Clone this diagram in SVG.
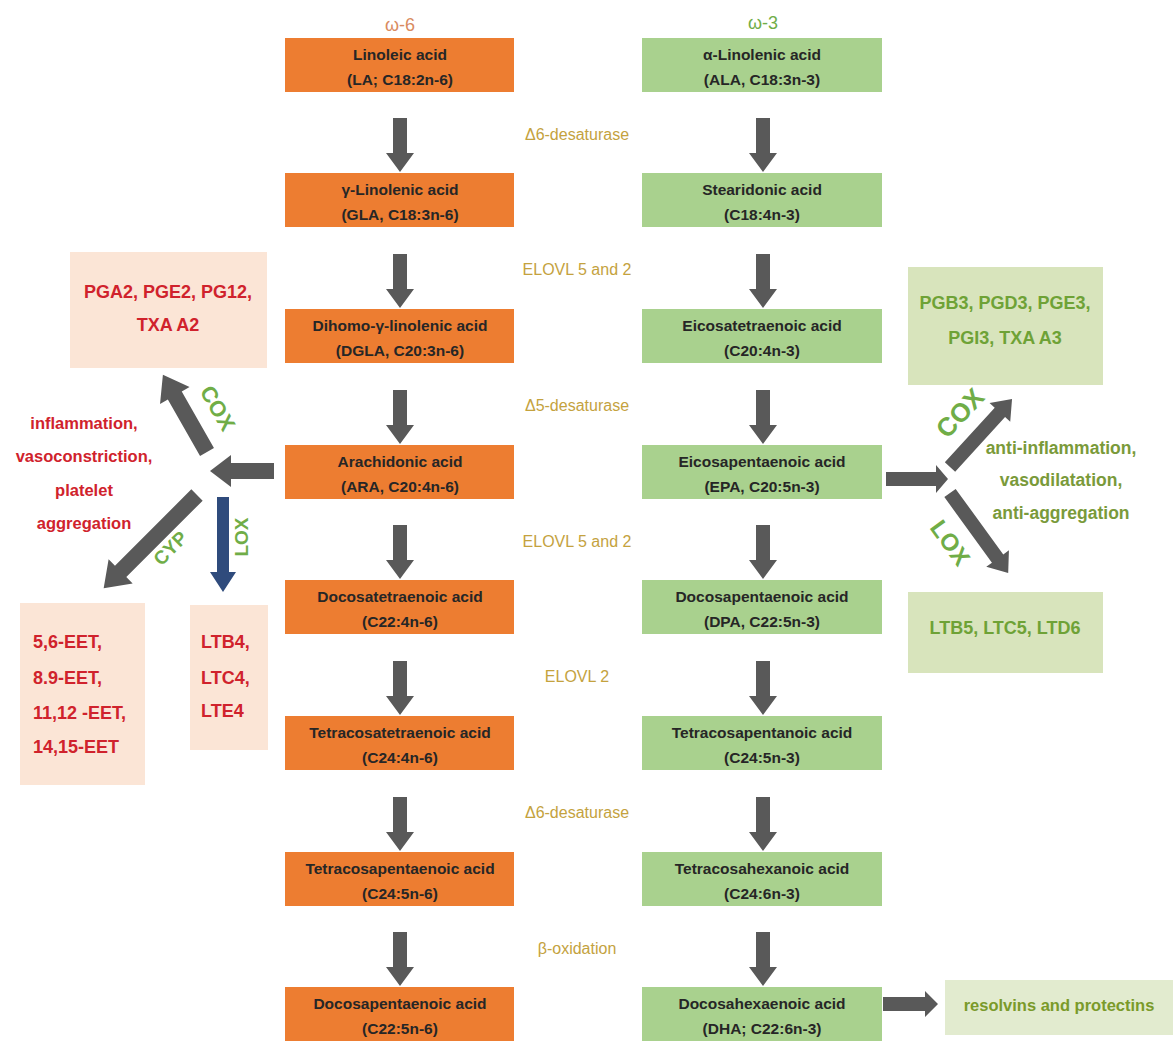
<svg xmlns="http://www.w3.org/2000/svg" xmlns:xlink="http://www.w3.org/1999/xlink" width="1173" height="1041" viewBox="0 0 1173 1041">
<defs>
<style>
text{font-family:"Liberation Sans","Arial",sans-serif;}
.ob{fill:#ed7d31;}
.gb{fill:#a9d18e;}
.bt{font-size:15.5px;font-weight:bold;fill:#262626;text-anchor:middle;}
.enz{font-size:16px;fill:#c4a23e;text-anchor:middle;}
.rbox{fill:#fbe5d6;}
.gbox{fill:#d8e4bc;}
.rt{font-size:18px;font-weight:bold;fill:#d0222c;}
.gt{font-size:18px;font-weight:bold;fill:#6ea236;}
.lab{font-weight:bold;fill:#70ad47;text-anchor:middle;}
.arr{fill:#595959;}
.blue{fill:#2f4b7c;}
</style>
<path id="vArrow" d="M-7,0 H7 V35 H14 L0,54 L-14,35 H-7 Z"/>
</defs>
<rect width="1173" height="1041" fill="#ffffff"/>

<text x="400" y="31" style="font-size:18px;fill:#d98b5f;text-anchor:middle;">ω-6</text>
<text x="763" y="29" style="font-size:18px;fill:#70ad47;text-anchor:middle;">ω-3</text>

<g id="connectors">
<use href="#vArrow" x="400" y="118" class="arr"/>
<use href="#vArrow" x="400" y="254" class="arr"/>
<use href="#vArrow" x="400" y="390" class="arr"/>
<use href="#vArrow" x="400" y="525" class="arr"/>
<use href="#vArrow" x="400" y="661" class="arr"/>
<use href="#vArrow" x="400" y="797" class="arr"/>
<use href="#vArrow" x="400" y="932" class="arr"/>
<use href="#vArrow" x="763" y="118" class="arr"/>
<use href="#vArrow" x="763" y="254" class="arr"/>
<use href="#vArrow" x="763" y="390" class="arr"/>
<use href="#vArrow" x="763" y="525" class="arr"/>
<use href="#vArrow" x="763" y="661" class="arr"/>
<use href="#vArrow" x="763" y="797" class="arr"/>
<use href="#vArrow" x="763" y="932" class="arr"/>
<!-- left side -->
<polygon class="arr" transform="translate(274,471) rotate(180)" points="0,-8 43,-8 43,-16 64,0 43,16 43,8 0,8"/>
<polygon class="arr" transform="translate(207,452) rotate(-119.7)" points="0,-8 65,-8 65,-17 89,0 65,17 65,8 0,8"/>
<polygon class="arr" transform="translate(197,495) rotate(135)" points="0,-8 108,-8 108,-17 132,0 108,17 108,8 0,8"/>
<polygon class="blue" transform="translate(223,497) rotate(90)" points="0,-6 75,-6 75,-13 95,0 75,13 75,6 0,6"/>
<!-- right side -->
<polygon class="arr" transform="translate(886,479) rotate(0)" points="0,-7 50,-7 50,-14 62,0 50,14 50,7 0,7"/>
<polygon class="arr" transform="translate(950,467) rotate(-47.6)" points="0,-7 74,-7 74,-14 92,0 74,14 74,7 0,7"/>
<polygon class="arr" transform="translate(950,493) rotate(54)" points="0,-7 81,-7 81,-14 99,0 81,14 81,7 0,7"/>
<polygon class="arr" transform="translate(883,1004) rotate(0)" points="0,-7 42,-7 42,-13 55,0 42,13 42,7 0,7"/>
</g>

<g id="enzyme-labels">
<text class="enz" x="577" y="140">Δ6-desaturase</text>
<text class="enz" x="577" y="275">ELOVL 5 and 2</text>
<text class="enz" x="577" y="411">Δ5-desaturase</text>
<text class="enz" x="577" y="547">ELOVL 5 and 2</text>
<text class="enz" x="577" y="682">ELOVL 2</text>
<text class="enz" x="577" y="818">Δ6-desaturase</text>
<text class="enz" x="577" y="954">β-oxidation</text>
</g>

<g id="o1"><rect class="ob" x="285" y="38" width="229" height="54"/><text class="bt" x="400" y="60">Linoleic acid</text><text class="bt" x="400" y="85">(LA; C18:2n-6)</text></g>
<g id="o2"><rect class="ob" x="285" y="173" width="229" height="54"/><text class="bt" x="400" y="195">γ-Linolenic acid</text><text class="bt" x="400" y="220">(GLA, C18:3n-6)</text></g>
<g id="o3"><rect class="ob" x="285" y="309" width="229" height="54"/><text class="bt" x="400" y="331">Dihomo-γ-linolenic acid</text><text class="bt" x="400" y="356">(DGLA, C20:3n-6)</text></g>
<g id="o4"><rect class="ob" x="285" y="445" width="229" height="54"/><text class="bt" x="400" y="467">Arachidonic acid</text><text class="bt" x="400" y="492">(ARA, C20:4n-6)</text></g>
<g id="o5"><rect class="ob" x="285" y="580" width="229" height="54"/><text class="bt" x="400" y="602">Docosatetraenoic acid</text><text class="bt" x="400" y="627">(C22:4n-6)</text></g>
<g id="o6"><rect class="ob" x="285" y="716" width="229" height="54"/><text class="bt" x="400" y="738">Tetracosatetraenoic acid</text><text class="bt" x="400" y="763">(C24:4n-6)</text></g>
<g id="o7"><rect class="ob" x="285" y="852" width="229" height="54"/><text class="bt" x="400" y="874">Tetracosapentaenoic acid</text><text class="bt" x="400" y="899">(C24:5n-6)</text></g>
<g id="o8"><rect class="ob" x="285" y="987" width="229" height="54"/><text class="bt" x="400" y="1009">Docosapentaenoic acid</text><text class="bt" x="400" y="1034">(C22:5n-6)</text></g>

<g id="g1"><rect class="gb" x="642" y="38" width="240" height="54"/><text class="bt" x="762" y="60">α-Linolenic acid</text><text class="bt" x="762" y="85">(ALA, C18:3n-3)</text></g>
<g id="g2"><rect class="gb" x="642" y="173" width="240" height="54"/><text class="bt" x="762" y="195">Stearidonic acid</text><text class="bt" x="762" y="220">(C18:4n-3)</text></g>
<g id="g3"><rect class="gb" x="642" y="309" width="240" height="54"/><text class="bt" x="762" y="331">Eicosatetraenoic acid</text><text class="bt" x="762" y="356">(C20:4n-3)</text></g>
<g id="g4"><rect class="gb" x="642" y="445" width="240" height="54"/><text class="bt" x="762" y="467">Eicosapentaenoic acid</text><text class="bt" x="762" y="492">(EPA, C20:5n-3)</text></g>
<g id="g5"><rect class="gb" x="642" y="580" width="240" height="54"/><text class="bt" x="762" y="602">Docosapentaenoic acid</text><text class="bt" x="762" y="627">(DPA, C22:5n-3)</text></g>
<g id="g6"><rect class="gb" x="642" y="716" width="240" height="54"/><text class="bt" x="762" y="738">Tetracosapentanoic acid</text><text class="bt" x="762" y="763">(C24:5n-3)</text></g>
<g id="g7"><rect class="gb" x="642" y="852" width="240" height="54"/><text class="bt" x="762" y="874">Tetracosahexanoic acid</text><text class="bt" x="762" y="899">(C24:6n-3)</text></g>
<g id="g8"><rect class="gb" x="642" y="987" width="240" height="54"/><text class="bt" x="762" y="1009">Docosahexaenoic acid</text><text class="bt" x="762" y="1034">(DHA; C22:6n-3)</text></g>

<g id="pg2"><rect class="rbox" x="70" y="252" width="197" height="116"/><text class="rt" x="168" y="298" text-anchor="middle">PGA2, PGE2, PG12,</text><text class="rt" x="168" y="331" text-anchor="middle">TXA A2</text></g>
<g id="effects-left"><text class="rt" style="font-size:16.5px" text-anchor="middle"><tspan x="84" y="429">inflammation,</tspan><tspan x="84" y="462">vasoconstriction,</tspan><tspan x="84" y="496">platelet</tspan><tspan x="84" y="529">aggregation</tspan></text></g>
<g id="eet"><rect class="rbox" x="20" y="603" width="125" height="182"/><text class="rt"><tspan x="33" y="648">5,6-EET,</tspan><tspan x="33" y="684">8.9-EET,</tspan><tspan x="33" y="719">11,12 -EET,</tspan><tspan x="33" y="753">14,15-EET</tspan></text></g>
<g id="lt4"><rect class="rbox" x="190" y="605" width="78" height="145"/><text class="rt"><tspan x="201" y="648">LTB4,</tspan><tspan x="201" y="684">LTC4,</tspan><tspan x="201" y="717">LTE4</tspan></text></g>

<g id="pg3"><rect class="gbox" x="908" y="267" width="195" height="118"/><text class="gt" x="1005" y="309" text-anchor="middle">PGB3, PGD3, PGE3,</text><text class="gt" x="1005" y="344" text-anchor="middle">PGI3, TXA A3</text></g>
<g id="effects-right"><text style="font-size:17.5px;font-weight:bold;fill:#7a9a3a;text-anchor:middle;"><tspan x="1061" y="454">anti-inflammation,</tspan><tspan x="1061" y="486">vasodilatation,</tspan><tspan x="1061" y="519">anti-aggregation</tspan></text></g>
<g id="lt5"><rect class="gbox" x="908" y="592" width="195" height="81"/><text class="gt" x="1005" y="634" text-anchor="middle">LTB5, LTC5, LTD6</text></g>
<g id="resolvins"><rect class="gbox" x="945" y="980" width="228" height="55" style="fill:#e2ebcf"/><text x="1059" y="1011" style="font-size:16.5px;font-weight:bold;fill:#7a9a2a;text-anchor:middle;">resolvins and protectins</text></g>

<g id="enzyme-arrow-labels">
<text class="lab" style="font-size:22px" transform="translate(218,408) rotate(60)" y="8">COX</text>
<text class="lab" style="font-size:19px" transform="translate(170,548) rotate(-45)" y="7">CYP</text>
<text class="lab" style="font-size:19px" transform="translate(241,537) rotate(-90)" y="7">LOX</text>
<text class="lab" style="font-size:26px" transform="translate(960,413) rotate(-47)" y="9">COX</text>
<text class="lab" style="font-size:24px" transform="translate(950,543) rotate(54)" y="8">LOX</text>
</g>
</svg>
